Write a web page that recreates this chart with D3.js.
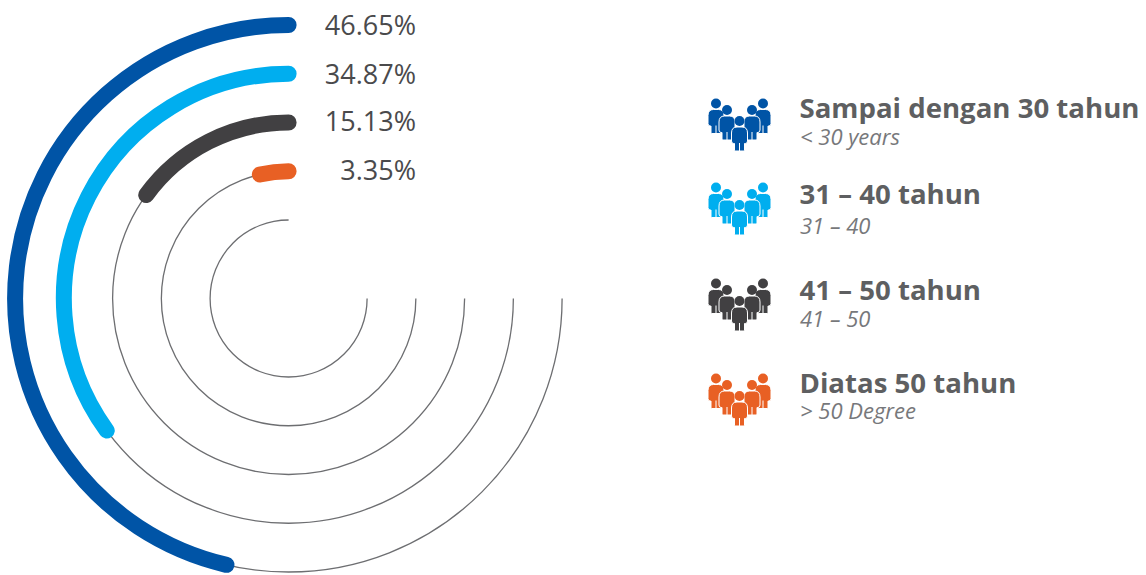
<!DOCTYPE html>
<html><head><meta charset="utf-8">
<script src="https://cdn.jsdelivr.net/npm/d3@7/dist/d3.min.js"></script>
<style>html,body{margin:0;padding:0;background:#fff}svg{display:block;font-family:"Open Sans",sans-serif}</style>
</head><body>
<svg id="c" width="1146" height="575"></svg>
<script>
const categories = ["Sampai dengan 30 tahun","31 – 40 tahun","41 – 50 tahun","Diatas 50 tahun"];
const subLabels = ["< 30 years","31 – 40","41 – 50","> 50 Degree"];
const arcValues = [46.35,35.0,15.0,3.63]; // sweep of each arc
const labels = ["46.65%","34.87%","15.13%","3.35%"];
const colors = ["#0054a6","#00aeef","#414042","#e86024"];
const labelY = [35,83.5,131,180];
const legendTitleY = [118,204,300,393];
const legendSubY = [145,234,327,419];
const legendIconDy = [0,84,180,275];

const svg = d3.select("#c");
const cx = 288.6, cy = 298.5;
const r = d3.scaleLinear().domain([0,4]).range([273.5,78.5]);
const angle = d3.scaleLinear().domain([0,100]).range([0,-2*Math.PI]);
const g = svg.append("g").attr("transform",`translate(${cx},${cy})`);
const arcLine = (a0,a1,rad,ccw)=>{const p=d3.path();p.arc(0,0,rad,a0-Math.PI/2,a1-Math.PI/2,ccw);return p.toString();};

// thin guide rings: three-quarter circles, right side round the bottom to the top
d3.range(5).forEach(i=>{
  g.append("path").attr("d",arcLine(Math.PI/2,2*Math.PI,r(i),false))
   .attr("fill","none").attr("stroke","#6d6e71").attr("stroke-width",1.3);
});
// value arcs
arcValues.forEach((v,i)=>{
  g.append("path").attr("d",arcLine(0,angle(v),r(i),true))
   .attr("fill","none").attr("stroke",colors[i]).attr("stroke-width",16).attr("stroke-linecap","round");
});
// value labels
labels.forEach((t,i)=>{
  svg.append("text").attr("x",416).attr("y",labelY[i]).attr("text-anchor","end")
   .attr("font-size",27).attr("fill","#4a4a4c").text(t);
});
// legend
function person(sel,x,y,col){
  const p = sel.append("g").attr("transform",`translate(${x},${y})`);
  p.append("path").attr("d","M-8,12 Q-8,6 -2.5,6 L2.5,6 Q8,6 8,12 L8,20 Q8,22.5 5.8,22.5 L5,22.5 L5,29 Q5,30 4,30 L-4,30 Q-5,30 -5,29 L-5,22.5 L-5.8,22.5 Q-8,22.5 -8,20 Z")
   .attr("fill",col).attr("stroke","#fff").attr("stroke-width",1);
  p.append("path").attr("d","M-0.5,22 L0.5,22 L0.5,30 L-0.5,30 Z").attr("fill","#fff");
  p.append("circle").attr("cy",0).attr("r",5).attr("fill",col);
}
categories.forEach((c,i)=>{
  const ic = svg.append("g").attr("transform",`translate(0,${legendIconDy[i]})`);
  [[716,103.5],[763,103.5],[727,110],[752,110],[739.5,121]].forEach(([x,y])=>person(ic,x,y,colors[i]));
  svg.append("text").attr("x",799.5).attr("y",legendTitleY[i]).attr("font-size",27.6).attr("font-weight",700).attr("fill","#5e5f61").text(c);
  svg.append("text").attr("x",800).attr("y",legendSubY[i]).attr("font-size",22).attr("font-style","italic").attr("fill","#77787b").text(subLabels[i]);
});
</script>
</body></html>
